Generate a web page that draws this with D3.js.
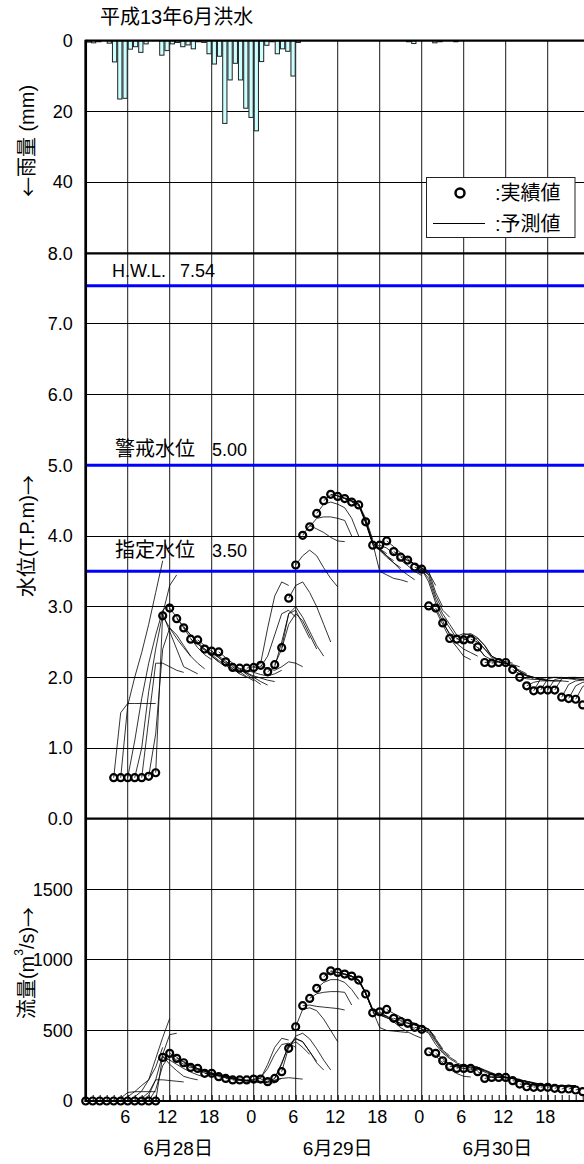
<!DOCTYPE html>
<html>
<head>
<meta charset="utf-8">
<script src="https://cdn.jsdelivr.net/npm/d3@7"></script>
<style>
  html, body { margin: 0; padding: 0; background: #fff; }
  svg { display: block; }
  text { font-family: "Liberation Sans", "Noto Sans CJK JP", sans-serif; fill: #000; }
  .cjk { font-family: "Noto Sans CJK JP", sans-serif; }
</style>
</head>
<body>
<svg id="chart" width="584" height="1164"></svg>
<script>
// ---- data ---------------------------------------------------------------
const titleText = "平成13年6月洪水";

// rainfall per slot (mm); the rain panel holds 96 slots across the time axis
const rainSlots = 96;
const rainfall = [
  0.4, 0.6, 0.3, 0, 0.7, 6.0, 16.5, 16.3, 2.4, 1.7,
  3.3, 0.9, 0, 0, 4.1, 2.8, 0.9, 0.5, 1.7, 1.2,
  2.3, 0.3, 0.5, 3.7, 6.6, 4.4, 23.4, 11.1, 6.4, 11.1,
  19.1, 21.7, 25.5, 5.9, 1.3, 0.3, 3.7, 2.3, 3.0, 10.0,
  0.5, 0, 0, 0, 0, 0, 0, 0, 0, 0,
  0, 0, 0, 0, 0, 0, 0, 0, 0, 0,
  0, 0.3, 0.8, 0, 0, 0, 0.6, 0.3, 0, 0,
  0.3
];

// observed water level (T.P.m), hourly from hour 4 of 6/28
const wlStartHour = 4;
const waterLevel = [
  0.58, 0.58, 0.58, 0.58, 0.58, 0.60, 0.65,
  2.87, 2.98, 2.83, 2.70, 2.54, 2.53, 2.40, 2.37, 2.36, 2.22,
  2.14, 2.13, 2.13, 2.14, 2.17, 2.08, 2.18, 2.42, 3.12, 3.59,
  4.01, 4.13, 4.32, 4.50, 4.59, 4.56, 4.53, 4.48, 4.44, 4.20,
  3.87, 3.87, 3.93, 3.78, 3.70, 3.66, 3.56, 3.53, 3.01, 2.98,
  2.77, 2.55, 2.54, 2.53, 2.54, 2.43, 2.21, 2.20, 2.21, 2.21,
  2.11, 2.00, 1.88, 1.81, 1.82, 1.82, 1.82, 1.72, 1.70, 1.69, 1.61
];

// observed discharge (m3/s), hourly from hour 0 of 6/28
const qStartHour = 0;
const discharge = [
  0, 0, 0, 0, 0, 0, 0, 0, 0, 0, 0,
  309, 338, 302, 271, 238, 231, 196, 196, 172, 160,
  149, 149, 149, 155, 155, 137, 160, 208, 373, 526,
  675, 727, 798, 880, 922, 911, 899, 885, 857, 758,
  625, 632, 649, 586, 562, 550, 522, 508, 349, 338,
  285, 243, 231, 231, 231, 208, 160, 167, 167, 167,
  144, 120, 101, 97, 97, 97, 90, 85, 85, 78, 66
];

// forecasts: [issue hour, value at +1h, +2h, ...]
const wlForecasts = [
  [4, 1.50, 1.63, 1.63, 1.63, 1.63, 1.63],
  [5, 1.60, 2.00, 2.35, 2.75, 3.20, 3.65],
  [6, 1.10, 1.70, 2.20, 2.60, 2.95, 3.05],
  [7, 1.00, 1.80, 2.40, 2.90, 3.30, 3.45],
  [8, 1.40, 2.20, 2.20, 2.15, 2.10, 2.07],
  [9, 1.20, 2.40, 2.70, 2.60, 2.45, 2.30],
  [10, 2.90, 2.65, 2.40, 2.15, 2.10, 2.05],
  [11, 2.70, 2.55, 2.42, 2.30, 2.20, 2.12],
  [12, 2.85, 2.70, 2.55, 2.42, 2.32, 2.25],
  [13, 2.72, 2.60, 2.48, 2.38, 2.30, 2.22],
  [14, 2.60, 2.50, 2.40, 2.30, 2.22, 2.15],
  [15, 2.47, 2.40, 2.32, 2.24, 2.17, 2.10],
  [16, 2.45, 2.37, 2.28, 2.20, 2.12, 2.05],
  [17, 2.34, 2.28, 2.20, 2.12, 2.05, 2.00],
  [18, 2.30, 2.23, 2.15, 2.08, 2.01, 1.95],
  [19, 2.28, 2.20, 2.12, 2.04, 1.97, 1.90],
  [20, 2.17, 2.12, 2.06, 2.00, 1.94, 1.89],
  [21, 2.10, 2.06, 2.02, 1.99, 1.96, 1.94],
  [22, 2.10, 2.07, 2.04, 2.02, 2.05, 2.10],
  [23, 2.15, 2.20, 2.70, 3.15, 3.35, 3.30],
  [24, 2.15, 2.30, 2.60, 2.90, 2.95, 2.85],
  [25, 2.12, 2.10, 2.15, 2.22, 2.20, 2.15],
  [26, 2.15, 2.50, 2.90, 2.95, 2.75, 2.55],
  [27, 2.40, 2.75, 2.90, 2.80, 2.60, 2.40],
  [28, 2.90, 3.00, 2.85, 2.65, 2.45, 2.30],
  [29, 3.30, 3.35, 3.20, 3.00, 2.75, 2.50],
  [30, 3.72, 3.80, 3.72, 3.55, 3.40, 3.28],
  [31, 4.15, 4.10, 4.05, 3.98, 3.93, 3.92],
  [32, 4.25, 4.27, 4.27, 4.25, 4.22, 4.00],
  [33, 4.45, 4.48, 4.45, 4.40, 4.25, 4.00],
  [34, 4.58, 4.57, 4.53, 4.50, 4.45, 4.20],
  [35, 4.57, 4.54, 4.50, 4.45, 4.25, 3.95],
  [36, 4.53, 4.49, 4.45, 4.22, 3.92, 3.85],
  [37, 4.49, 4.45, 4.20, 3.90, 3.82, 3.75],
  [38, 4.43, 4.18, 3.88, 3.80, 3.72, 3.65],
  [39, 4.20, 3.90, 3.80, 3.70, 3.62, 3.55],
  [40, 3.90, 3.50, 3.45, 3.40, 3.38, 3.35],
  [41, 3.82, 3.72, 3.62, 3.52, 3.45, 3.38],
  [42, 3.83, 3.75, 3.66, 3.58, 3.50, 3.44],
  [43, 3.85, 3.76, 3.68, 3.60, 3.52, 3.45],
  [44, 3.72, 3.66, 3.60, 3.54, 3.48, 3.30],
  [45, 3.65, 3.60, 3.55, 3.50, 3.20, 3.00],
  [46, 3.60, 3.55, 3.45, 3.15, 2.95, 2.85],
  [47, 3.52, 3.40, 3.10, 2.90, 2.75, 2.60],
  [48, 3.35, 3.05, 2.85, 2.70, 2.55, 2.50],
  [49, 2.95, 2.75, 2.55, 2.43, 2.30, 2.25],
  [50, 2.80, 2.60, 2.48, 2.40, 2.35, 2.30],
  [51, 2.62, 2.58, 2.55, 2.50, 2.42, 2.30],
  [52, 2.58, 2.62, 2.60, 2.52, 2.40, 2.30],
  [53, 2.60, 2.62, 2.56, 2.45, 2.30, 2.25],
  [54, 2.57, 2.55, 2.45, 2.30, 2.25, 2.22],
  [55, 2.50, 2.40, 2.28, 2.25, 2.22, 2.20],
  [56, 2.30, 2.25, 2.22, 2.20, 2.18, 2.15],
  [57, 2.22, 2.22, 2.20, 2.15, 2.10, 2.05],
  [58, 2.22, 2.20, 2.15, 2.08, 2.02, 1.98],
  [59, 2.20, 2.15, 2.08, 2.03, 2.00, 1.97],
  [60, 2.15, 2.08, 2.03, 2.00, 1.97, 1.95],
  [61, 2.05, 2.02, 2.00, 1.98, 1.96, 1.95],
  [62, 1.98, 1.97, 1.97, 1.96, 1.95, 1.95],
  [63, 1.93, 1.95, 1.95, 1.95, 1.95, 1.94],
  [64, 1.98, 2.00, 2.00, 1.99, 1.98, 1.97],
  [65, 1.98, 2.00, 2.00, 1.99, 1.98, 1.97],
  [66, 1.97, 1.99, 1.99, 1.98, 1.97, 1.96],
  [67, 1.98, 2.00, 2.00, 1.99, 1.98],
  [68, 1.90, 1.95, 1.96, 1.96],
  [69, 1.88, 1.93, 1.94],
  [70, 1.87, 1.92]
];

const qForecasts = [
  [4, 20, 60, 66, 66, 66, 66],
  [5, 30, 66, 110, 150, 240, 380],
  [6, 30, 70, 150, 300, 450, 585],
  [7, 20, 60, 150, 330, 470, 480],
  [8, 40, 150, 150, 145, 140, 135],
  [9, 80, 250, 320, 290, 260, 235],
  [10, 320, 260, 215, 175, 160, 150],
  [11, 290, 260, 230, 205, 185, 170],
  [12, 310, 275, 245, 220, 200, 185],
  [13, 280, 255, 230, 210, 190, 175],
  [14, 250, 230, 212, 195, 180, 168],
  [15, 225, 210, 195, 182, 170, 160],
  [16, 215, 200, 187, 175, 163, 153],
  [17, 188, 180, 170, 160, 152, 145],
  [18, 185, 175, 165, 155, 147, 140],
  [19, 165, 158, 150, 143, 137, 132],
  [20, 155, 150, 145, 140, 135, 130],
  [21, 145, 141, 137, 133, 130, 128],
  [22, 146, 143, 140, 138, 145, 160],
  [23, 152, 160, 260, 380, 444, 432],
  [24, 165, 230, 330, 400, 410, 380],
  [25, 150, 148, 160, 165, 160, 155],
  [26, 160, 270, 390, 420, 380, 330],
  [27, 260, 400, 440, 420, 350, 280],
  [28, 380, 444, 420, 350, 270, 219],
  [29, 460, 480, 440, 370, 290, 220],
  [30, 650, 660, 640, 580, 500, 420],
  [31, 680, 670, 665, 660, 655, 645],
  [32, 760, 770, 775, 775, 770, 680],
  [33, 840, 860, 860, 840, 790, 720],
  [34, 915, 910, 895, 880, 850, 760],
  [35, 912, 900, 885, 855, 760, 640],
  [36, 900, 885, 855, 760, 640, 610],
  [37, 885, 855, 760, 640, 610, 600],
  [38, 860, 770, 650, 620, 600, 580],
  [39, 770, 650, 610, 590, 570, 550],
  [40, 640, 520, 500, 495, 490, 485],
  [41, 610, 590, 570, 550, 530, 515],
  [42, 600, 560, 520, 490, 465, 445],
  [43, 620, 595, 570, 550, 530, 510],
  [44, 570, 555, 540, 525, 510, 450],
  [45, 550, 540, 525, 510, 440, 370],
  [46, 540, 525, 505, 430, 360, 320],
  [47, 510, 490, 420, 350, 310, 280],
  [48, 480, 400, 340, 300, 270, 250],
  [49, 320, 270, 225, 195, 175, 170],
  [50, 300, 260, 240, 230, 225, 215],
  [51, 260, 245, 245, 240, 230, 210],
  [52, 250, 255, 250, 240, 215, 190],
  [53, 245, 250, 240, 220, 200, 180],
  [54, 240, 235, 215, 195, 180, 170],
  [55, 225, 205, 185, 175, 170, 165],
  [56, 180, 172, 168, 165, 160, 155],
  [57, 168, 168, 165, 160, 150, 140],
  [58, 170, 168, 160, 150, 140, 130],
  [59, 165, 158, 148, 138, 128, 120],
  [60, 158, 148, 138, 128, 120, 112],
  [61, 138, 132, 125, 118, 112, 108],
  [62, 118, 115, 112, 110, 108, 106],
  [63, 108, 110, 110, 109, 108, 107],
  [64, 108, 110, 110, 109, 108, 107],
  [65, 108, 110, 110, 109, 108],
  [66, 107, 109, 109, 108],
  [67, 104, 107, 107],
  [68, 100, 104],
  [69, 98],
  [70, 92]
];

// reference water levels
const levelNames = ["H.W.L.", "警戒水位", "指定水位"];
const levelValues = [7.54, 5.00, 3.50];

// axis ticks and labels
const hourTicks = [6, 12, 18, 24, 30, 36, 42, 48, 54, 60, 66];
const rainTicks = [0, 20, 40];
const wlTicks = [0, 1, 2, 3, 4, 5, 6, 7, 8];
const qTicks = [0, 500, 1000, 1500];
const dayLabels = ["6月28日", "6月29日", "6月30日"];
const legendLabels = [":実績値", ":予測値"];

(function draw() {
  // ---- scales -------------------------------------------------------------
  const svg = d3.select("#chart");
  const x = d3.scaleLinear().domain([0, 72]).range([85.7, 589.7]);
  const xRain = d3.scaleBand().domain(d3.range(rainSlots)).range(x.range());
  const yRain = d3.scaleLinear().domain([0, 60]).range([40.7, 252.8]);
  const yWL = d3.scaleLinear().domain([0, 8]).range([818.7, 253.3]);
  const yQ = d3.scaleLinear().domain([0, 2000]).range([1101, 818.7]);
  const plotTop = yRain(0), plotBottom = yQ(0), plotLeft = x(0), plotRight = x(72);

  const LATIN = 18, CJK = 20;

  // ---- grid ---------------------------------------------------------------
  const grid = svg.append("g");
  grid.selectAll("line.v").data(hourTicks).join("line")
    .attr("x1", d => x(d)).attr("x2", d => x(d))
    .attr("y1", plotTop).attr("y2", plotBottom)
    .attr("stroke", "#1a1a1a").attr("stroke-width", 1);

  const hLines = [
    ...rainTicks.filter(d => d > 0).map(d => yRain(d)),
    ...wlTicks.filter(d => d > 0 && d < 8).map(d => yWL(d)),
    ...qTicks.filter(d => d > 0).map(d => yQ(d))
  ];
  grid.selectAll("line.h").data(hLines).join("line")
    .attr("x1", plotLeft).attr("x2", plotRight)
    .attr("y1", d => d).attr("y2", d => d)
    .attr("stroke", "#000").attr("stroke-width", 1)
    .attr("shape-rendering", "crispEdges");

  // ---- rainfall bars (hanging from the top) -------------------------------
  svg.append("g").selectAll("rect")
    .data(rainfall.map((v, i) => ({ i, v })).filter(d => d.v > 0))
    .join("rect")
    .attr("x", d => xRain(d.i) + 0.5)
    .attr("y", yRain(0))
    .attr("width", xRain.bandwidth() - 1)
    .attr("height", d => yRain(d.v) - yRain(0))
    .attr("fill", "#ccffff")
    .attr("stroke", "#222")
    .attr("stroke-width", 1);

  // ---- reference levels ---------------------------------------------------
  const levelOffsets = [9, 9, 14];
  const refs = svg.append("g");
  levelValues.forEach((v, i) => {
    refs.append("line")
      .attr("x1", plotLeft).attr("x2", plotRight)
      .attr("y1", yWL(v)).attr("y2", yWL(v))
      .attr("stroke", "#0000ff").attr("stroke-width", 3);
    refs.append("text")
      .attr("x", i === 0 ? 112 : 115).attr("y", yWL(v) - levelOffsets[i])
      .attr("font-size", i === 0 ? LATIN : CJK)
      .text(levelNames[i]);
    refs.append("text")
      .attr("x", i === 0 ? 180 : 212).attr("y", yWL(v) - levelOffsets[i])
      .attr("font-size", LATIN)
      .text(v.toFixed(2));
  });

  // ---- forecasts and observations -----------------------------------------
  function drawSeries(obs, start, forecasts, yScale) {
    const obsAt = h => obs[h - start];
    const line = d3.line().x(d => x(d[0])).y(d => yScale(d[1]));
    const g = svg.append("g");
    g.selectAll("path").data(forecasts).join("path")
      .attr("d", f => line([[f[0], obsAt(f[0])], ...f.slice(1).map((v, k) => [f[0] + k + 1, v])]))
      .attr("fill", "none").attr("stroke", "#000").attr("stroke-width", 0.8);
    g.selectAll("circle").data(obs.map((v, k) => [start + k, v])).join("circle")
      .attr("cx", d => x(d[0])).attr("cy", d => yScale(d[1]))
      .attr("r", 3.5)
      .attr("fill", "none").attr("stroke", "#000").attr("stroke-width", 2.2);
  }
  drawSeries(waterLevel, wlStartHour, wlForecasts, yWL);
  drawSeries(discharge, qStartHour, qForecasts, yQ);

  // ---- frame --------------------------------------------------------------
  const frame = svg.append("g").attr("stroke", "#000");
  [plotTop, yWL(8), yWL(0), plotBottom].forEach(y =>
    frame.append("line").attr("x1", plotLeft).attr("x2", plotRight)
      .attr("y1", y).attr("y2", y).attr("stroke-width", 2.2));
  frame.append("line").attr("x1", plotLeft).attr("x2", plotLeft)
    .attr("y1", plotTop - 1).attr("y2", plotBottom + 1).attr("stroke-width", 2.7);

  // ---- axes ---------------------------------------------------------------
  function styleAxis(g, size) {
    g.select(".domain").remove();
    g.attr("font-family", null).attr("font-size", size);
    g.selectAll("text").attr("fill", "#000");
  }
  svg.append("g").attr("transform", `translate(${plotLeft},0)`)
    .call(d3.axisLeft(yRain).tickValues(rainTicks).tickSize(0).tickPadding(13))
    .call(g => styleAxis(g, LATIN));
  svg.append("g").attr("transform", `translate(${plotLeft},0)`)
    .call(d3.axisLeft(yWL).tickValues(wlTicks).tickSize(0).tickPadding(13).tickFormat(d3.format(".1f")))
    .call(g => styleAxis(g, LATIN));
  svg.append("g").attr("transform", `translate(${plotLeft},0)`)
    .call(d3.axisLeft(yQ).tickValues(qTicks).tickSize(0).tickPadding(13).tickFormat(d3.format("d")))
    .call(g => styleAxis(g, LATIN));

  // hourly minor ticks along the bottom edge
  svg.append("g").attr("transform", `translate(0,${plotBottom})`)
    .call(d3.axisBottom(x).tickValues(d3.range(1, 72)).tickSize(-6).tickFormat(""))
    .call(g => { g.select(".domain").remove(); g.selectAll("line").attr("stroke", "#000"); });

  svg.append("g").attr("transform", `translate(0,${plotBottom})`)
    .call(d3.axisBottom(x).tickValues(hourTicks).tickSize(0).tickPadding(9).tickFormat(d => d % 24))
    .call(g => { styleAxis(g, LATIN); g.selectAll("text").attr("dx", -3); });

  // day labels under the hour ticks
  const dayCenters = [13.2, 36, 58.8];
  svg.append("g").selectAll("text").data(dayLabels).join("text")
    .attr("x", (d, i) => x(dayCenters[i])).attr("y", 1155)
    .attr("text-anchor", "middle").attr("font-size", 19)
    .text(d => d);

  // ---- titles -------------------------------------------------------------
  svg.append("text").attr("x", 100).attr("y", 24).attr("font-size", CJK).text(titleText);

  function yTitle(cy) {
    return svg.append("text")
      .attr("transform", `translate(27,${cy}) rotate(-90)`)
      .attr("text-anchor", "middle").attr("dominant-baseline", "central")
      .attr("font-size", CJK);
  }
  const rt = yTitle(141);
  rt.append("tspan").attr("class", "cjk").text("←");
  rt.append("tspan").text("雨量 (mm)");
  const wt = yTitle(536);
  wt.append("tspan").text("水位(T.P.m)");
  wt.append("tspan").attr("class", "cjk").text("→");
  const qt = yTitle(963);
  qt.append("tspan").text("流量(m");
  qt.append("tspan").attr("font-size", 12).attr("dy", -8).text("3");
  qt.append("tspan").attr("dy", 8).text("/s)");
  qt.append("tspan").attr("class", "cjk").text("→");

  // ---- legend -------------------------------------------------------------
  const lg = svg.append("g");
  lg.append("rect").attr("x", 426.5).attr("y", 177.5).attr("width", 148.5).attr("height", 60)
    .attr("fill", "#fff").attr("stroke", "#222").attr("stroke-width", 1);
  lg.append("circle").attr("cx", 460).attr("cy", 193).attr("r", 4.5)
    .attr("fill", "none").attr("stroke", "#000").attr("stroke-width", 2.5);
  lg.append("line").attr("x1", 433).attr("x2", 485).attr("y1", 223.5).attr("y2", 223.5)
    .attr("stroke", "#000").attr("stroke-width", 1);
  lg.selectAll("text").data(legendLabels).join("text")
    .attr("x", 495).attr("y", (d, i) => 200 + i * 31)
    .attr("font-size", CJK).text(d => d);
})();
</script>
</body>
</html>
